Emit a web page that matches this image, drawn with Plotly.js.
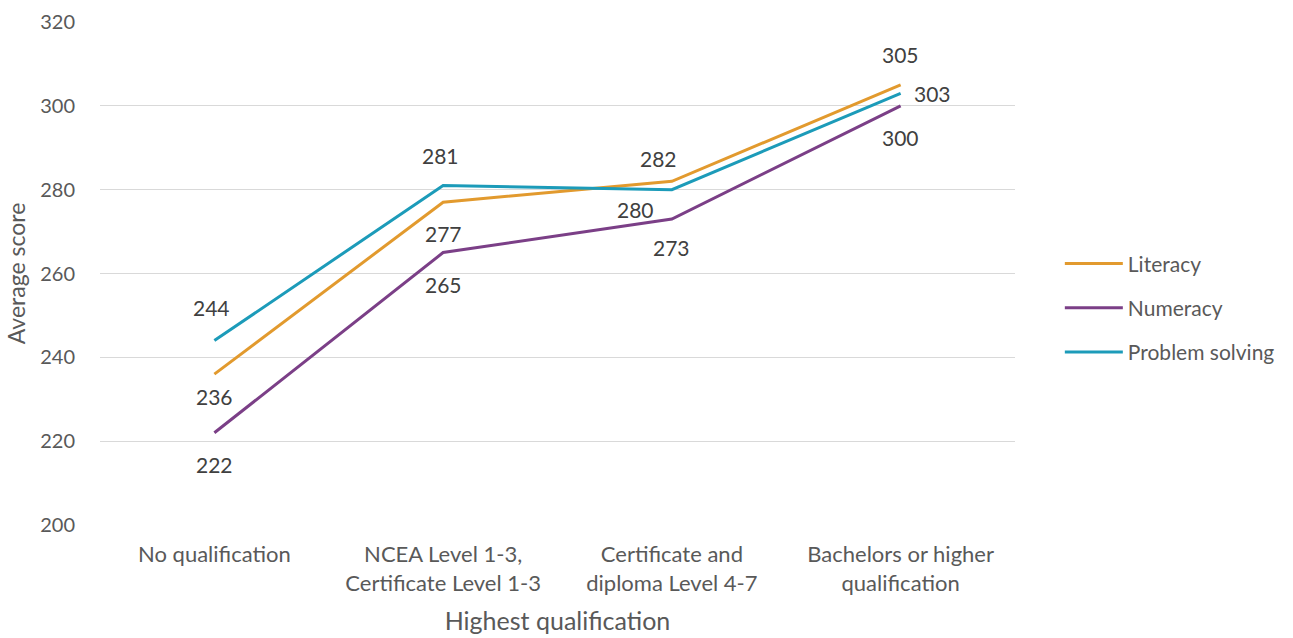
<!DOCTYPE html>
<html>
<head>
<meta charset="utf-8">
<script src="https://cdn.plot.ly/plotly-3.0.1.min.js"></script>
<style>
  html, body { margin: 0; padding: 0; background: #fff; }
  #chart { width: 1293px; height: 638px; }
</style>
</head>
<body>
<div id="chart"></div>
<script>
// Average skill scores by highest qualification
const categories = [
  "No qualification",
  "NCEA Level 1-3,<br>Certificate Level 1-3",
  "Certificate and<br>diploma Level 4-7",
  "Bachelors or higher<br>qualification"
];
const literacy = [236, 277, 282, 305];
const numeracy = [222, 265, 273, 300];
const problemSolving = [244, 281, 280, 303];
const yTicks = [200, 220, 240, 260, 280, 300, 320];

// Label offsets (px) for each point: [xshift, yshift]
const litOffsets = [[0, -22], [0, -31], [-13, 23], [0, 30]];
const numOffsets = [[0, -32], [0, -32], [0, -28], [0, -32]];
const psOffsets = [[-3, 33], [-3, 30], [-36, -20], [32, 0]];

const series = [
  { name: "Literacy", values: literacy, color: "#E29A2E", offsets: litOffsets },
  { name: "Numeracy", values: numeracy, color: "#7B3F87", offsets: numOffsets },
  { name: "Problem solving", values: problemSolving, color: "#1C9BB9", offsets: psOffsets }
];

const FONT = "Lato, 'Open Sans', sans-serif";
const TEXT = "#595959";

const traces = series.map((s, i) => ({
  type: "scatter",
  mode: "lines",
  name: s.name,
  legendgroup: "g" + i,
  x: categories,
  y: s.values,
  line: { color: s.color, width: 3 },
  hoverinfo: "x+y+name"
}));

const annotations = [];
series.forEach(s => {
  s.values.forEach((v, j) => {
    annotations.push({
      x: categories[j], y: v, xref: "x", yref: "y",
      text: String(v), showarrow: false,
      xshift: s.offsets[j][0], yshift: s.offsets[j][1],
      font: { family: FONT, size: 21, color: "#404040" }
    });
  });
});

const layout = {
  width: 1293, height: 638,
  margin: { l: 100, r: 278, t: 22, b: 113, autoexpand: false },
  paper_bgcolor: "#fff", plot_bgcolor: "#fff",
  font: { family: FONT, size: 20, color: TEXT },
  showlegend: true,
  legend: {
    x: 1.049, y: 0.56, xanchor: "left", yanchor: "top",
    font: { family: FONT, size: 21, color: TEXT },
    itemwidth: 58,
    tracegroupgap: 14, bgcolor: "rgba(0,0,0,0)"
  },
  xaxis: {
    type: "category",
    range: [-0.5, 3.5],
    showgrid: false, zeroline: false,
    showline: false, ticks: "",
    ticklabelstandoff: 14,
    tickfont: { family: FONT, size: 22, color: TEXT },
    title: { text: "Highest qualification", font: { family: FONT, size: 25, color: TEXT }, standoff: 17 }
  },
  yaxis: {
    range: [200, 320],
    tickvals: yTicks,
    showgrid: true, gridcolor: "#D9D9D9", gridwidth: 1,
    zeroline: false, showline: false, ticks: "",
    ticklabelstandoff: 24,
    tickfont: { family: FONT, size: 20, color: TEXT },
    title: { text: "Average score", font: { family: FONT, size: 23, color: TEXT }, standoff: 8 }
  },
  annotations: annotations
};

Plotly.newPlot("chart", traces, layout, { displayModeBar: false, responsive: false });
</script>
</body>
</html>
